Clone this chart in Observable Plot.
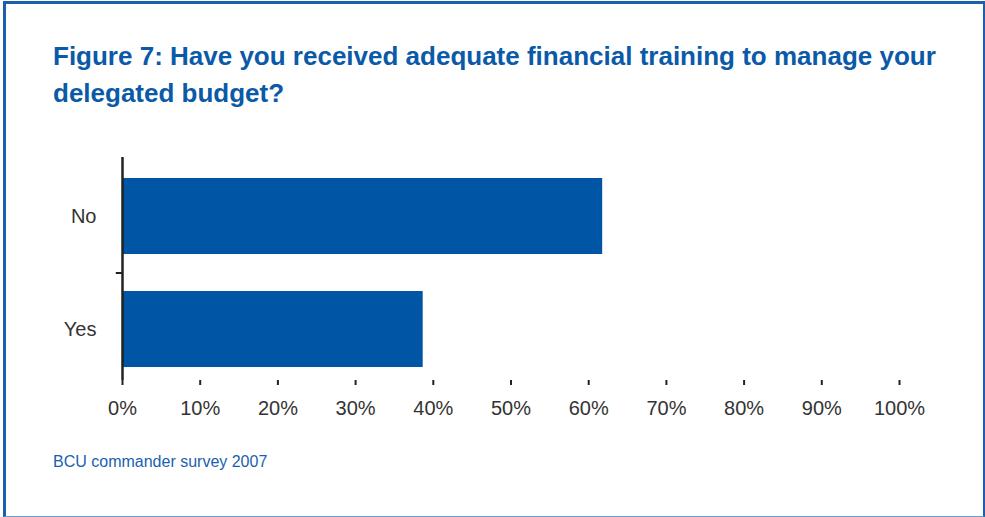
<!DOCTYPE html>
<html>
<head>
<meta charset="utf-8">
<script src="https://cdn.jsdelivr.net/npm/d3@7"></script>
<script src="https://cdn.jsdelivr.net/npm/@observablehq/plot@0.6"></script>
<style>
  html, body { margin: 0; padding: 0; background: #fff; }
  #wrap { position: relative; width: 985px; height: 517px; overflow: hidden; background: #fff; }
  #frame { position: absolute; left: 3px; top: 1px; right: 0px; bottom: 0px;
    border-top: 3px solid #1b5fad; border-left: 3px solid #1b5fad; border-right: 2px solid #1b5fad;
    border-bottom: 1px solid #6b9bd0; box-sizing: border-box; }
  #title { position: absolute; left: 53px; top: 38px; margin: 0; font-family: "Liberation Sans", Arial, sans-serif;
    font-weight: bold; font-size: 26px; line-height: 37px; color: #0a5aa8; }
  #caption { position: absolute; left: 53px; top: 453px; margin: 0; font-family: "Liberation Sans", Arial, sans-serif;
    font-size: 16px; color: #1a5fae; }
  #chart { position: absolute; left: 0; top: 0; }
</style>
</head>
<body>
<div id="wrap">
  <div id="frame"></div>
  <div id="chart"></div>
  <p id="title">Figure 7: Have you received adequate financial training to manage your<br>delegated budget?</p>
  <p id="caption">BCU commander survey 2007</p>
</div>
<script>
const categories = ["No", "Yes"];
const values = [61.8, 38.7];
const xTicks = [0, 10, 20, 30, 40, 50, 60, 70, 80, 90, 100];

const data = categories.map((c, i) => ({answer: c, pct: values[i]}));

const chart = Plot.plot({
  width: 985,
  height: 517,
  marginLeft: 122,
  marginRight: 86,
  marginTop: 157,
  marginBottom: 137,
  style: {fontFamily: "'Liberation Sans', Arial, sans-serif", background: "transparent"},
  x: {domain: [0, 100]},
  y: {domain: categories, paddingInner: 0.327, paddingOuter: 0.15, align: 0.62},
  marks: [
    Plot.barX(data, {x: "pct", y: "answer", fill: "#0055a4"}),
    Plot.axisX({ticks: xTicks, tickFormat: d => d + "%", tickSize: 5, tickPadding: 15,
      fontSize: 20, fill: "#333", stroke: "#222", strokeWidth: 2, label: null}),
    Plot.axisY({tickSize: 0, tickPadding: 26, fontSize: 20, fill: "#333", label: null}),
    Plot.ruleX([0], {stroke: "#222", strokeWidth: 2.5}),
    Plot.ruleY([0], {stroke: "#222", strokeWidth: 2.5}),
    Plot.ruleY(categories.slice(1), {y: d => d, x1: -0.8, x2: 0, dy: -56.5, stroke: "#222", strokeWidth: 2})
  ]
});
document.getElementById("chart").appendChild(chart);
</script>
</body>
</html>
